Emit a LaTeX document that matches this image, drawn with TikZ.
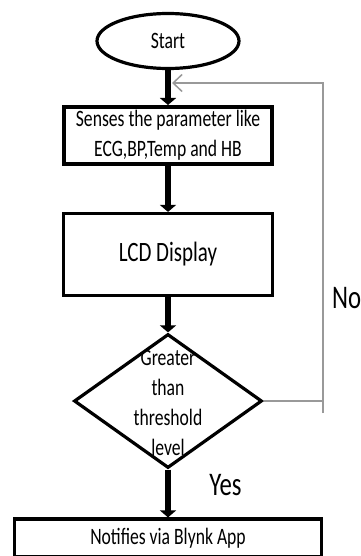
\documentclass[tikz,border=0pt]{standalone}
\usepackage{fontspec}
\newfontfamily\flowfont[FakeStretch=0.75]{Carlito}
\usetikzlibrary{shapes.geometric,arrows.meta}

\tikzset{
	box/.style={draw,line width=3.2pt,inner sep=0pt},
	flow/.style={line width=5.5pt,-{Triangle[width=16pt,length=7pt]}},
	loopline/.style={draw=gray!80,line width=1.5pt},
	txt/.style={font=\flowfont\fontsize{23.5}{30}\selectfont,align=center},
	lbl/.style={font=\flowfont\fontsize{33}{36}\selectfont,inner sep=0pt}
}

\begin{document}
\begin{tikzpicture}[x=1pt,y=-1pt]
	\useasboundingbox (0,0) rectangle (360,556);

	\node[box,ellipse,minimum width=142pt,minimum height=55pt,txt] (start) at (168,41) {Start};
	\node[box,line width=4pt,minimum width=208pt,minimum height=57pt,txt] (sense) at (168,135.5) {Senses the parameter like\\ECG,BP,Temp and HB};
	\node[box,minimum width=209pt,minimum height=82pt,txt,font=\flowfont\fontsize{28}{32}\selectfont] (lcd) at (168,254.5) {LCD Display};
	\node[box,diamond,minimum width=188pt,minimum height=134pt] (dec) at (168,401) {};
	\node[txt] (dectxt) at (168,403) {Greater\\than\\threshold\\level};
	\node[box,minimum width=307pt,minimum height=38pt,txt] (notify) at (168,538) {Notifies via Blynk App};

	\node[lbl,anchor=west] (no) at (332,298) {No};
	\node[lbl] (yes) at (225.5,485) {Yes};

	\coordinate (fbtop) at (323,83);
	\coordinate (fbbot) at (323,413);
	\coordinate (fbin) at (172,83);

	\draw[flow] (start) -- (sense);
	\draw[flow] (sense) -- (lcd);
	\draw[flow] (lcd) -- (dec);
	\draw[flow] (dec) -- (notify);

	\draw[loopline] (dec.east) -- (dec.east -| fbtop);
	\draw[loopline,-{Straight Barb[length=9pt,width=17pt]}] (fbbot) -- (fbtop) -- (fbin);
\end{tikzpicture}
\end{document}
